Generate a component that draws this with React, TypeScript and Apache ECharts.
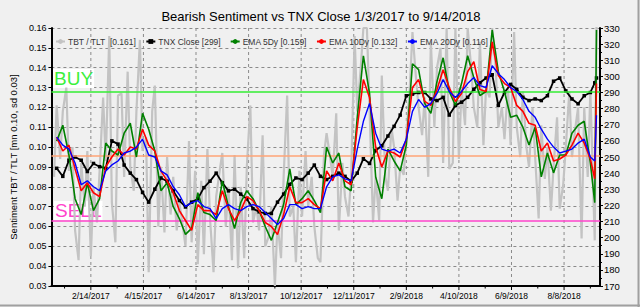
import { useEffect, useRef } from "react";
import * as echarts from "echarts";

const TITLE = "Bearish Sentiment vs TNX Close 1/3/2017 to 9/14/2018";
const Y_LEFT_NAME = "Sentiment TBT / TLT [mn 0.10, sd 0.03]";
const FIRST_FRIDAY = "2017-01-06";
const WEEK_COUNT = 88;
const LAST_DATES = ["2018-09-12", "2018-09-14"];
const X_TICK_LABELS = ["2/14/2017", "4/15/2017", "6/14/2017", "8/13/2017", "10/12/2017", "12/11/2017", "2/9/2018", "4/10/2018", "6/9/2018", "8/8/2018"];

const LEGEND_NAMES = ["TBT / TLT  [0.161]", "TNX Close [299]", "EMA 5Dy [0.159]", "EMA 10Dy [0.132]", "EMA 20Dy [0.116]"];

const MEAN_LEVEL = 0.0955;
const BUY_LEVEL = 0.128;
const SELL_LEVEL = 0.0628;

// weekly (Fri) + 2018-09-12 + 2018-09-14
const EMA20 = [
  0.105, 0.101, 0.099, 0.092, 0.081, 0.083, 0.080, 0.078, 0.088, 0.091,
  0.093, 0.097, 0.098, 0.100, 0.104, 0.096, 0.095, 0.088, 0.086, 0.080,
  0.076, 0.070, 0.072, 0.073, 0.070, 0.069, 0.064, 0.069, 0.071, 0.069,
  0.068, 0.070, 0.071, 0.070, 0.067, 0.064, 0.061, 0.064, 0.071, 0.071,
  0.069, 0.070, 0.069, 0.069, 0.080, 0.085, 0.086, 0.084, 0.083, 0.099,
  0.113, 0.122, 0.107, 0.099, 0.098, 0.099, 0.097, 0.104, 0.118, 0.124,
  0.120, 0.122, 0.127, 0.134, 0.128, 0.125, 0.128, 0.132, 0.135, 0.131,
  0.130, 0.141, 0.137, 0.134, 0.130, 0.128, 0.124, 0.118, 0.115, 0.109,
  0.104, 0.100, 0.097, 0.098, 0.099, 0.102, 0.104, 0.095, 0.093, 0.116,
];
const EMA10 = [
  0.105, 0.098, 0.101, 0.089, 0.078, 0.082, 0.077, 0.075, 0.090, 0.095,
  0.099, 0.096, 0.100, 0.099, 0.109, 0.101, 0.098, 0.088, 0.083, 0.077,
  0.068, 0.063, 0.058, 0.071, 0.068, 0.068, 0.066, 0.078, 0.069, 0.063,
  0.068, 0.075, 0.073, 0.068, 0.062, 0.060, 0.056, 0.066, 0.080, 0.072,
  0.072, 0.074, 0.071, 0.069, 0.088, 0.083, 0.092, 0.083, 0.081, 0.110,
  0.134, 0.125, 0.100, 0.090, 0.098, 0.097, 0.095, 0.104, 0.130, 0.134,
  0.123, 0.121, 0.129, 0.139, 0.130, 0.123, 0.127, 0.138, 0.143, 0.129,
  0.128, 0.153, 0.136, 0.132, 0.130, 0.121, 0.118, 0.112, 0.111, 0.098,
  0.102, 0.093, 0.094, 0.096, 0.101, 0.107, 0.102, 0.094, 0.084, 0.132,
];
const EMA5 = [
  0.103, 0.111, 0.096, 0.074, 0.066, 0.082, 0.068, 0.074, 0.102, 0.098,
  0.096, 0.107, 0.112, 0.095, 0.117, 0.109, 0.098, 0.078, 0.082, 0.070,
  0.064, 0.056, 0.059, 0.077, 0.067, 0.066, 0.063, 0.083, 0.070, 0.059,
  0.072, 0.078, 0.074, 0.068, 0.060, 0.053, 0.062, 0.071, 0.089, 0.071,
  0.074, 0.078, 0.073, 0.067, 0.100, 0.092, 0.097, 0.080, 0.078, 0.115,
  0.146, 0.127, 0.085, 0.074, 0.099, 0.093, 0.088, 0.101, 0.142, 0.139,
  0.122, 0.117, 0.133, 0.145, 0.128, 0.121, 0.132, 0.146, 0.135, 0.126,
  0.128, 0.159, 0.138, 0.128, 0.115, 0.116, 0.110, 0.101, 0.110, 0.085,
  0.097, 0.087, 0.096, 0.096, 0.107, 0.111, 0.113, 0.092, 0.072, 0.159,
];
const TNX = [
  243, 238, 248, 250, 248, 241, 246, 244, 243, 260,
  258, 245, 240, 236, 228, 222, 230, 237, 235, 229,
  223, 219, 222, 224, 231, 235, 240, 234, 229, 230,
  227, 224, 218, 216, 215, 215, 222, 227, 233, 237,
  236, 240, 245, 238, 236, 238, 240, 238, 235, 240,
  249, 246, 254, 257, 263, 269, 276, 288, 289, 290,
  290, 286, 285, 287, 276, 282, 284, 287, 292, 296,
  299, 301, 282, 290, 295, 292, 287, 285, 286, 285,
  288, 297, 299, 291, 286, 283, 288, 290, 296, 299,
];
// twice weekly (Tue, Fri) + 2018-09-12 + 2018-09-14
const TBT_TLT = [
  0.085, 0.121, 0.094, 0.118, 0.130, 0.088, 0.100, 0.058, 0.043, 0.092,
  0.070, 0.098, 0.045, 0.080, 0.062, 0.088, 0.125, 0.093, 0.156, 0.072,
  0.052, 0.126, 0.127, 0.085, 0.138, 0.090, 0.078, 0.118, 0.154, 0.098,
  0.105, 0.037, 0.118, 0.131, 0.060, 0.090, 0.057, 0.095, 0.066, 0.085,
  0.058, 0.072, 0.060, 0.050, 0.103, 0.052, 0.088, 0.041, 0.083, 0.046,
  0.099, 0.064, 0.037, 0.075, 0.088, 0.097, 0.060, 0.080, 0.043, 0.096,
  0.039, 0.080, 0.044, 0.090, 0.121, 0.062, 0.070, 0.058, 0.106, 0.050,
  0.055, 0.070, 0.030, 0.062, 0.044, 0.085, 0.126, 0.065, 0.070, 0.042,
  0.088, 0.065, 0.098, 0.070, 0.085, 0.060, 0.044, 0.042, 0.096, 0.107,
  0.095, 0.085, 0.117, 0.058, 0.092, 0.075, 0.065, 0.085, 0.156, 0.118,
  0.140, 0.160, 0.160, 0.120, 0.062, 0.085, 0.063, 0.136, 0.085, 0.078,
  0.110, 0.100, 0.073, 0.090, 0.086, 0.105, 0.130, 0.158, 0.135, 0.120,
  0.106, 0.125, 0.085, 0.153, 0.110, 0.140, 0.150, 0.092, 0.160, 0.089,
  0.092, 0.160, 0.094, 0.130, 0.111, 0.160, 0.140, 0.120, 0.110, 0.153,
  0.101, 0.130, 0.125, 0.160, 0.140, 0.110, 0.120, 0.104, 0.130, 0.101,
  0.158, 0.110, 0.095, 0.128, 0.100, 0.090, 0.120, 0.095, 0.064, 0.111,
  0.084, 0.100, 0.068, 0.090, 0.115, 0.069, 0.081, 0.100, 0.128, 0.095,
  0.110, 0.120, 0.054, 0.120, 0.085, 0.128, 0.053, 0.161,
];

const FONT = '"Liberation Sans", Arial, sans-serif';
const DAY = 86400000;
const EPOCH = Date.UTC(2016, 11, 16);
const isoDay = (iso: string) => {
  const [y, m, d] = iso.split("-").map(Number);
  return Math.round((Date.UTC(y, m - 1, d) - EPOCH) / DAY);
};
const mdyDay = (s: string) => {
  const [m, d, y] = s.split("/").map(Number);
  return Math.round((Date.UTC(y, m - 1, d) - EPOCH) / DAY);
};

const fri0 = isoDay(FIRST_FRIDAY);
const weeklyDays: number[] = [];
for (let w = 0; w < WEEK_COUNT; w++) weeklyDays.push(fri0 + 7 * w);
const lastDays = LAST_DATES.map(isoDay);
const emaDays = [...weeklyDays, ...lastDays];
const grayDays: number[] = [];
for (const d of weeklyDays) grayDays.push(d - 3, d);
grayDays.push(...lastDays);

const tickDays = X_TICK_LABELS.map(mdyDay);
const minorTickDays = [tickDays[0] - 30, ...tickDays.map((d) => d + 30)];
const X_MIN = isoDay("2016-12-31");
const X_MAX = isoDay("2018-09-18");
const Y_MIN = 0.03;
const Y_MAX = 0.16;

const pair = (days: number[], vals: number[]) => vals.map((v, i) => [days[i], v]);

export default function App() {
  const ref = useRef<HTMLDivElement>(null);
  useEffect(() => {
    document.body.style.margin = "0";
    if (!ref.current) return;
    const chart = echarts.init(ref.current, undefined, { renderer: "svg" });
    const dashed = { color: "#8a8a8a", type: [3, 3] as any, width: 1 };
    chart.setOption({
      animation: false,
      backgroundColor: "#f0f0f0",
      textStyle: { fontFamily: FONT },
      title: {
        text: TITLE,
        left: 316,
        textAlign: "center",
        top: 5,
        textStyle: { fontSize: 13, fontWeight: "normal", color: "#000", fontFamily: FONT },
      },
      legend: {
        left: 50,
        top: 32,
        itemWidth: 9,
        itemHeight: 6,
        itemGap: 9,
        data: LEGEND_NAMES,
        textStyle: { fontSize: 8.5, color: "#333", fontFamily: FONT, padding: [0, 0, 0, -2] },
      },
      grid: { left: 47, right: 40, top: 28, bottom: 21 },
      xAxis: {
        type: "value",
        min: X_MIN,
        max: X_MAX,
        axisLine: { show: true, onZero: false, lineStyle: { color: "#000", width: 2 } },
        axisTick: { show: false },
        splitLine: { show: false },
        axisLabel: { show: false },
      },
      yAxis: [
        {
          type: "value",
          min: Y_MIN,
          max: Y_MAX,
          interval: 0.01,
          position: "left",
          name: Y_LEFT_NAME,
          nameLocation: "middle",
          nameGap: 31,
          nameTextStyle: { fontSize: 9.5, color: "#000", fontFamily: FONT },
          axisLine: { show: true, lineStyle: { color: "#000", width: 2 } },
          axisTick: { show: true, length: 3, lineStyle: { color: "#000" } },
          axisLabel: { fontSize: 9, color: "#000", margin: 5, formatter: (v: number) => v.toFixed(2) },
          splitLine: { show: true, lineStyle: dashed },
        },
        {
          type: "value",
          min: 170,
          max: 330,
          interval: 10,
          position: "right",
          axisLine: { show: true, lineStyle: { color: "#000", width: 2 } },
          axisTick: { show: true, length: 3, lineStyle: { color: "#000" } },
          minorTick: { show: true, splitNumber: 2, length: 2, lineStyle: { color: "#000" } },
          axisLabel: { fontSize: 9.5, color: "#000", margin: 4 },
          splitLine: { show: false },
        },
      ],
      graphic: [
        {
          type: "text",
          left: 53,
          top: 69,
          z: 1,
          style: { text: "BUY", fill: "#3cf03c", font: `19px ${FONT}`, backgroundColor: "#ffffff", padding: [0, 1, 0, 1] },
        },
        {
          type: "text",
          left: 54,
          top: 201,
          z: 1,
          style: { text: "SELL", fill: "#ff44cc", font: `19px ${FONT}`, backgroundColor: "#ffffff", padding: [0, 1, 0, 1] },
        },
        { type: "line", z: 10, shape: { x1: 0, y1: 305.5, x2: 640, y2: 305.5 }, style: { stroke: "#a0a0a0", lineWidth: 2 } },
        { type: "line", z: 10, shape: { x1: 638.5, y1: 0, x2: 638.5, y2: 307 }, style: { stroke: "#a0a0a0", lineWidth: 2 } },
      ],
      series: [
        {
          name: "xGrid",
          type: "custom",
          xAxisIndex: 0,
          yAxisIndex: 0,
          z: 1,
          silent: true,
          clip: false,
          data: tickDays.map((d, i) => [d, i]),
          renderItem: (params: any, api: any) => {
            const day = api.value(0);
            const [x, top] = api.coord([day, Y_MAX]);
            const bot = api.coord([day, Y_MIN])[1];
            return {
              type: "group",
              children: [
                { type: "line", shape: { x1: x, y1: top, x2: x, y2: bot }, style: { stroke: "#8a8a8a", lineWidth: 1, lineDash: [3, 3] } },
                { type: "line", shape: { x1: x, y1: bot, x2: x, y2: bot + 4 }, style: { stroke: "#000", lineWidth: 1 } },
                {
                  type: "text",
                  x,
                  y: bot + 5,
                  style: { text: X_TICK_LABELS[params.dataIndex], align: "center", verticalAlign: "top", font: `8.5px ${FONT}`, fill: "#000" },
                },
              ],
            };
          },
        },
        {
          name: "xMinor",
          type: "custom",
          xAxisIndex: 0,
          yAxisIndex: 0,
          z: 1,
          silent: true,
          clip: false,
          data: minorTickDays.map((d) => [d, 0]),
          renderItem: (params: any, api: any) => {
            const day = api.value(0);
            const [x, bot] = api.coord([day, Y_MIN]);
            return { type: "line", shape: { x1: x, y1: bot, x2: x, y2: bot + 2.5 }, style: { stroke: "#000", lineWidth: 1 } };
          },
        },
        {
          name: LEGEND_NAMES[0],
          type: "line",
          yAxisIndex: 0,
          z: 3,
          symbol: "none",
          color: "#c3c3c3",
          lineStyle: { color: "#c3c3c3", width: 2.2 },
          data: pair(grayDays, TBT_TLT),
          markLine: {
            silent: true,
            symbol: "none",
            precision: 4,
            label: { show: false },
            data: [
              { yAxis: BUY_LEVEL, lineStyle: { color: "#33ee33", width: 1.5, type: "solid" } },
              { yAxis: MEAN_LEVEL, lineStyle: { color: "#ffa477", width: 1.5, type: "solid" } },
              { yAxis: SELL_LEVEL, lineStyle: { color: "#ff44cc", width: 1.5, type: "solid" } },
            ],
          },
        },
        {
          name: LEGEND_NAMES[1],
          type: "line",
          yAxisIndex: 1,
          z: 4,
          symbol: "rect",
          symbolSize: 3.5,
          color: "#000",
          itemStyle: { color: "#000" },
          lineStyle: { color: "#000", width: 1.8 },
          data: pair(emaDays, TNX),
        },
        {
          name: LEGEND_NAMES[2],
          type: "line",
          yAxisIndex: 0,
          z: 5,
          symbol: "none",
          color: "#008000",
          lineStyle: { color: "#008000", width: 1.6 },
          data: pair(emaDays, EMA5),
        },
        {
          name: LEGEND_NAMES[3],
          type: "line",
          yAxisIndex: 0,
          z: 6,
          symbol: "none",
          color: "#ff0000",
          lineStyle: { color: "#ff0000", width: 1.6 },
          data: pair(emaDays, EMA10),
        },
        {
          name: LEGEND_NAMES[4],
          type: "line",
          yAxisIndex: 0,
          z: 7,
          symbol: "none",
          color: "#0000ff",
          lineStyle: { color: "#0000ff", width: 1.4 },
          data: pair(emaDays, EMA20),
        },
      ],
    });
    return () => chart.dispose();
  }, []);
  return <div ref={ref} style={{ width: 640, height: 307, background: "#f0f0f0" }} />;
}
